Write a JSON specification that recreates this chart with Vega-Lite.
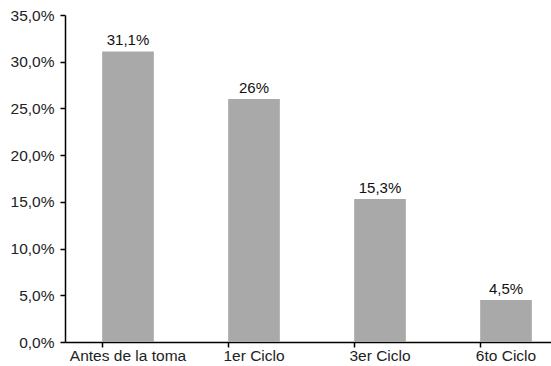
{
  "$schema": "https://vega.github.io/schema/vega-lite/v6.json",
  "autosize": {"type": "none"},
  "width": 486,
  "height": 327,
  "padding": {"left": 65, "top": 15, "right": 0, "bottom": 24},
  "config": {
    "view": {"stroke": null},
    "font": "Liberation Sans",
    "axis": {"grid": false, "domainColor": "#000", "tickColor": "#000", "labelColor": "#222", "labelFontSize": 15.5, "labelFont": "Liberation Sans"}
  },
  "data": {
    "values": [
      {"etapa": "Antes de la toma", "valor": 0.311, "etiqueta": "31,1%"},
      {"etapa": "1er Ciclo", "valor": 0.26, "etiqueta": "26%"},
      {"etapa": "3er Ciclo", "valor": 0.153, "etiqueta": "15,3%"},
      {"etapa": "6to Ciclo", "valor": 0.045, "etiqueta": "4,5%"}
    ]
  },
  "encoding": {
    "x": {
      "field": "etapa",
      "type": "nominal",
      "sort": null,
      "scale": {"range": [0, 504], "paddingInner": 0.59, "paddingOuter": 0.295},
      "axis": {"title": null, "labelAngle": 0, "bandPosition": 0, "ticks": true, "tickSize": 5, "labelPadding": 1, "domainWidth": 1.5, "tickWidth": 1.5}
    },
    "y": {
      "field": "valor",
      "type": "quantitative",
      "scale": {"domain": [0, 0.35]},
      "axis": {"title": null, "values": [0, 0.05, 0.1, 0.15, 0.2, 0.25, 0.3, 0.35], "labelExpr": "replace(format(datum.value, '.1%'), '.', ',')", "tickSize": 5, "labelPadding": 6, "domainWidth": 1.5, "tickWidth": 1.5}
    }
  },
  "layer": [
    {"mark": {"type": "bar", "color": "#a9a9a9"}},
    {"mark": {"type": "text", "baseline": "alphabetic", "dy": -6, "fontSize": 15, "color": "#111"}, "encoding": {"text": {"field": "etiqueta"}}}
  ]
}
